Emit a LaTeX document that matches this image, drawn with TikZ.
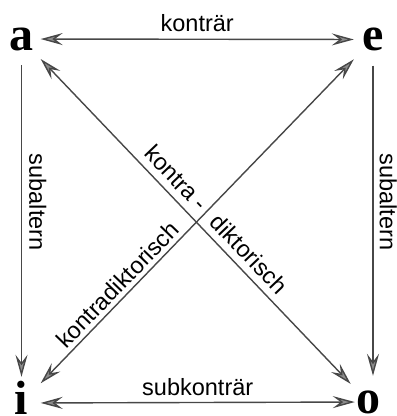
\documentclass[tikz,border=0pt]{standalone}
\usepackage{fontspec}
\usepackage{tikz}
\usetikzlibrary{arrows.meta}
\newfontfamily\letterfont{Liberation Serif}
\newfontfamily\labelfont{Liberation Sans}
\tikzset{
  square-letter/.style={font=\letterfont\bfseries\fontsize{48bp}{48bp}\selectfont, inner sep=0pt,
    text height=22bp, text depth=0pt, minimum width=38bp, minimum height=52bp},
  square-line/.style={draw=black!72, line width=1.4bp},
  square-label/.style={font=\labelfont\fontsize{23.5bp}{28bp}\selectfont, inner sep=7bp}
}
\begin{document}
\begin{tikzpicture}[x=1bp, y=1bp, >={Stealth[length=22bp, width=12bp, inset=8bp, fill=black!45]}]
  \useasboundingbox (0,0) rectangle (397,-416);
  \node[square-letter] (a) at (21.5,-39) {a};
  \node[square-letter] (e) at (373,-39.5) {e};
  \node[square-letter] (i) at (21.5,-403) {i};
  \node[square-letter, minimum width=26bp] (o) at (368,-402) {o};
  \draw[square-line, <->] (a) -- node[square-label, above] {konträr} (e);
  \draw[square-line, <->] (i) -- node[square-label, above, inner sep=6bp] {subkonträr} (o);
  \draw[square-line, ->] (a) -- node[square-label, pos=0.44, rotate=-90, anchor=south] {subaltern} (i);
  \draw[square-line, ->] (e.south) -- node[square-label, pos=0.44, rotate=-90, anchor=south, inner sep=6bp] {subaltern} (e.south |- o.north);
  \draw[square-line, <->, shorten >=6bp] (a) -- node[square-label, pos=0.5, sloped, anchor=south east] {kontra -}
    node[square-label, pos=0.5, sloped, anchor=south west] {diktorisch} (o);
  \draw[square-line, <->] (e) -- node[square-label, pos=0.5, sloped, anchor=south east, inner xsep=18bp, inner ysep=4bp] {kontradiktorisch} (i);
\end{tikzpicture}
\end{document}
